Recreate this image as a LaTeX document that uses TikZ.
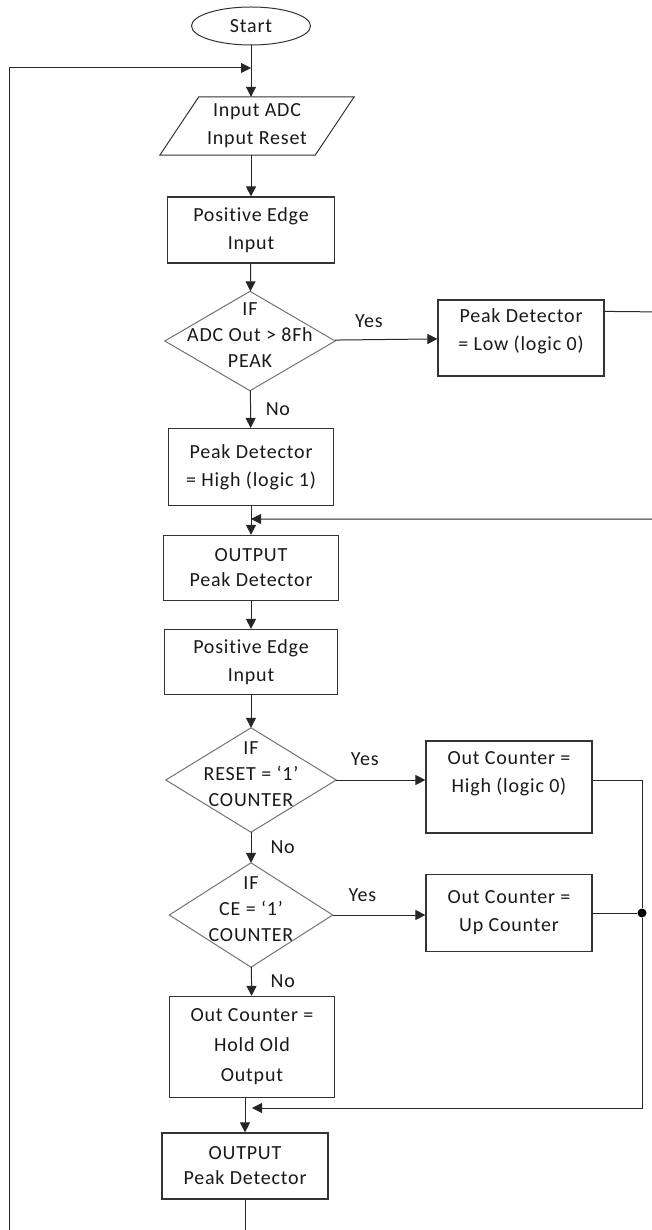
\documentclass[tikz,border=0pt]{standalone}
\usepackage{fontspec}
\setmainfont{Carlito}[LetterSpace=4, Ligatures=NoCommon]
\usetikzlibrary{shapes.geometric,arrows.meta}

\begin{document}
\begin{tikzpicture}[x = 1pt, y = -1pt,
  every node/.style = {font = \fontsize{20}{28}\selectfont, text = black!90},
  box/.style = {draw = black!80, shape = rectangle, align = center, inner sep = 0pt, line width = 1.2pt},
  cond/.style = {shape = rectangle, align = center, inner sep = 0pt, text depth = 12pt,
    font = \fontsize{20}{26}\selectfont},
  line/.style = {draw = black!85, line width = 1pt},
  arr/.style = {line, -{Triangle[length = 10pt, width = 10pt]}},
  dot/.style = {shape = circle, fill = black, inner sep = 0pt, minimum size = 9pt}]
\useasboundingbox (0,0) rectangle (651,1230);

\node[draw = black!80, shape = ellipse, minimum width = 119pt, minimum height = 38pt, inner sep = 0pt, line width = 1pt] (1) at (251,26) {Start};
\node[shape = rectangle, align = center, minimum width = 155pt, minimum height = 58pt, inner sep = 0pt] (2) at (257,126) {Input ADC\\Input Reset};
\node[box, minimum width = 167pt, minimum height = 66pt] (3) at (251,230) {Positive Edge\\Input};
\node[cond, minimum width = 170pt, minimum height = 99pt] (4) at (250,341) {IF\\ADC Out > 8Fh\\PEAK};
\node[box, minimum width = 166pt, minimum height = 76pt, text depth = 17pt] (5) at (521,338) {Peak Detector\\= Low (logic 0)};
\node[box, minimum width = 165pt, minimum height = 77pt] (6) at (251,467) {Peak Detector\\= High (logic 1)};
\node[box, minimum width = 175pt, minimum height = 65pt, font = \fontsize{20}{25}\selectfont] (7) at (251,568) {OUTPUT\\Peak Detector};
\node[box, minimum width = 173pt, minimum height = 65pt] (8) at (251,662) {Positive Edge\\Input};
\node[cond, minimum width = 170pt, minimum height = 104pt] (9) at (251,780) {IF\\RESET = ‘1’\\COUNTER};
\node[box, minimum width = 166pt, minimum height = 92pt, text depth = 29pt] (10) at (509,787) {Out Counter =\\High (logic 0)};
\node[cond, minimum width = 163pt, minimum height = 104pt] (11) at (251,915) {IF\\CE = ‘1’\\COUNTER};
\node[box, minimum width = 166pt, minimum height = 77pt] (12) at (509,913) {Out Counter =\\Up Counter};
\node[box, minimum width = 165pt, minimum height = 101pt, font = \fontsize{20}{30}\selectfont] (13) at (252,1047) {Out Counter =\\Hold Old\\Output};
\node[box, minimum width = 166pt, minimum height = 66pt, font = \fontsize{20}{25}\selectfont] (14) at (245,1166) {OUTPUT\\Peak Detector};
\node[dot] (15) at (642,913) {};

% outlines of the decisions and the input
\foreach \d in {4,9,11}
  \draw[draw = black!55, line width = 1pt] (\d.west) -- (\d.north) -- (\d.east) -- (\d.south) -- cycle;
\draw[draw = black!80, line width = 1pt] ([xshift = 19.5pt]2.north west) -- ([xshift = 19.5pt]2.north east)
  -- ([xshift = -19.5pt]2.south east) -- ([xshift = -19.5pt]2.south west) -- cycle;

% main flow
\draw[arr] (1) -- (1 |- 2.north);
\draw[arr] (3 |- 2.south) -- (3);
\draw[arr] (3) -- (4);
\draw[arr] (4) -- (5);
\draw[arr] (4) -- (6);
\draw[arr] (6) -- (7);
\draw[arr] (7) -- (8);
\draw[arr] (8) -- (9);
\draw[arr] (9) -- (9 -| 10.west);
\draw[arr] (9) -- (11);
\draw[arr] (11) -- (11 -| 12.west);
\draw[arr] (11) -- (13);
\draw[arr] (14 |- 13.south) -- (14);

% returns
\draw[arr] ([yshift = -12pt]5.north east) -- (665,312) |- (7 |- 0,519);
\draw[arr] (10.east |- 9) -| (15) |- (13 |- 0,1108);
\draw[line] (12) -- (15);
\draw[arr] (14) -- ++(0,90) -| (9,68) -- (1 |- 0,68);

\begin{scope}[nodes = {draw = none}]
\path (4.east)  -- (5)  node [pos = 0.33, above = 9pt]  {Yes};
\path (9.east)  -- (10) node [pos = 0.32, above = 12pt] {Yes};
\path (11.east) -- (12) node [pos = 0.32, above = 9pt]  {Yes};
\path (4.south)  -- (6)  node [midway, right = 12pt] {No};
\path (9.south)  -- (11) node [midway, right = 16pt] {No};
\path (11.south) -- (13) node [midway, right = 16pt] {No};
\end{scope}
\end{tikzpicture}
\end{document}
